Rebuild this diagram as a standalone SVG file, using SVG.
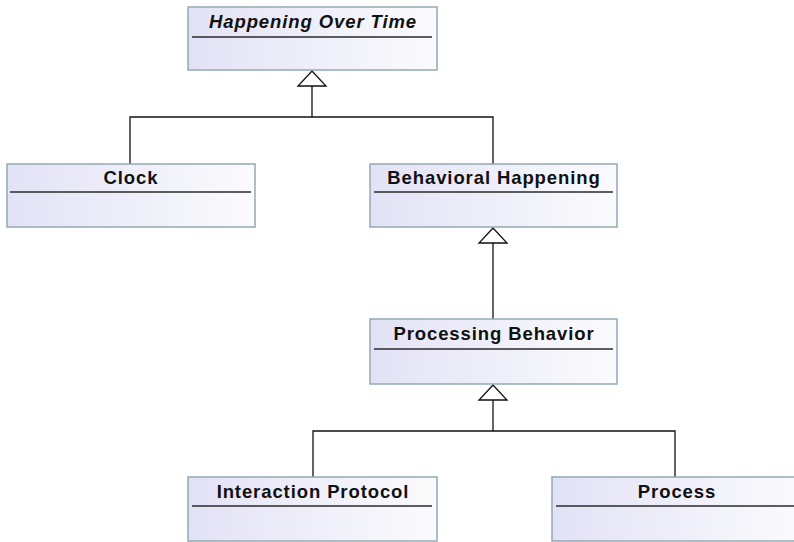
<svg xmlns="http://www.w3.org/2000/svg" width="794" height="542" viewBox="0 0 794 542">
  <defs>
    <linearGradient id="classFill" x1="0" y1="0" x2="1" y2="0">
      <stop offset="0" stop-color="#e2e2f6"/>
      <stop offset="1" stop-color="#fbfbfd"/>
    </linearGradient>
  </defs>
  <style>
    .box { fill: url(#classFill); stroke: #93a9b2; stroke-width: 1.5; }
    .sep { stroke: #2a2a2a; stroke-width: 1.5; }
    .title { font-family: "Liberation Sans", Arial, sans-serif; font-size: 18.5px; font-weight: bold; letter-spacing: 0.9px; fill: #111; text-anchor: middle; }
    .abstract { font-style: italic; }
    .edge { fill: none; stroke: #111; stroke-width: 1.3; }
    .head { fill: #fff; stroke: #111; stroke-width: 1.3; stroke-linejoin: miter; }
  </style>

  <!-- generalization connectors -->
  <g id="connectors">
    <polyline class="edge" points="130,164 130,117 493,117 493,164"/>
    <line class="edge" x1="312" y1="117" x2="312" y2="86"/>
    <polygon class="head" points="312,71 298,86 326,86"/>

    <line class="edge" x1="493" y1="319" x2="493" y2="243"/>
    <polygon class="head" points="493,228 479,243 507,243"/>

    <polyline class="edge" points="313,477 313,431 675,431 675,477"/>
    <line class="edge" x1="493" y1="431" x2="493" y2="400"/>
    <polygon class="head" points="493,385 479,400 507,400"/>
  </g>

  <g id="happening-over-time">
    <rect class="box" x="188" y="7" width="249" height="63"/>
    <line class="sep" x1="192" y1="37" x2="432" y2="37"/>
    <text class="title abstract" x="313" y="28">Happening Over Time</text>
  </g>

  <g id="clock">
    <rect class="box" x="7" y="164" width="248" height="63"/>
    <line class="sep" x1="10" y1="192" x2="251" y2="192"/>
    <text class="title" x="131" y="184">Clock</text>
  </g>

  <g id="behavioral-happening">
    <rect class="box" x="370" y="164" width="247" height="63"/>
    <line class="sep" x1="374" y1="192" x2="613" y2="192"/>
    <text class="title" x="494" y="184">Behavioral Happening</text>
  </g>

  <g id="processing-behavior">
    <rect class="box" x="370" y="319" width="247" height="65"/>
    <line class="sep" x1="374" y1="349" x2="613" y2="349"/>
    <text class="title" x="494" y="340">Processing Behavior</text>
  </g>

  <g id="interaction-protocol">
    <rect class="box" x="188" y="477" width="249" height="64"/>
    <line class="sep" x1="192" y1="506" x2="432" y2="506"/>
    <text class="title" x="313" y="498">Interaction Protocol</text>
  </g>

  <g id="process">
    <rect class="box" x="552" y="477" width="250" height="64"/>
    <line class="sep" x1="556" y1="506" x2="798" y2="506"/>
    <text class="title" x="677" y="498">Process</text>
  </g>
</svg>
